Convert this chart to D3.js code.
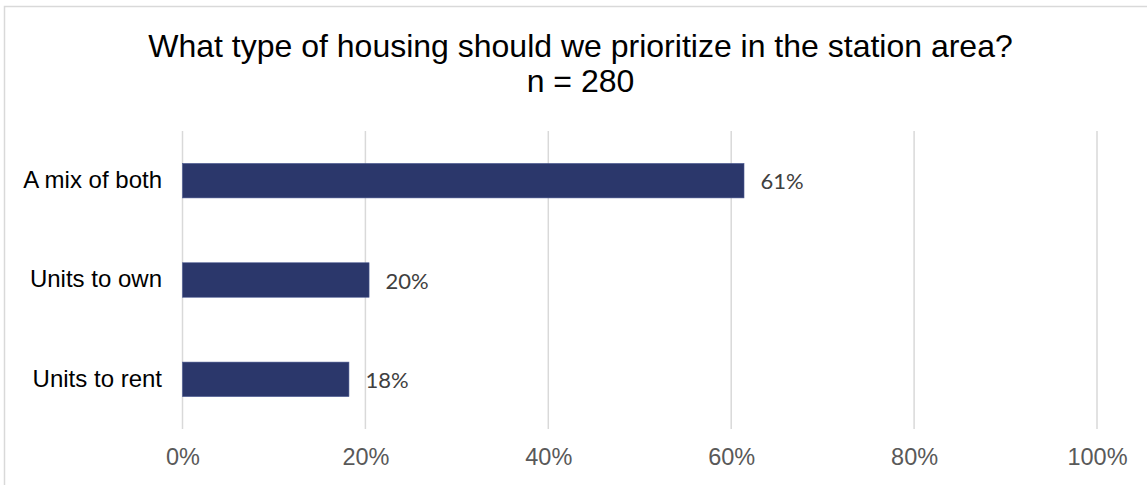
<!DOCTYPE html>
<html>
<head>
<meta charset="utf-8">
<script src="https://cdn.jsdelivr.net/npm/d3@7"></script>
<style>
  html, body { margin: 0; padding: 0; background: #fff; }
  svg { display: block; }
</style>
</head>
<body>
<svg id="chart" width="1147" height="485"></svg>
<script>
// Survey responses: housing type to prioritize near the station
const categories = ["A mix of both", "Units to own", "Units to rent"];
const shares = [0.614, 0.204, 0.182];
const tickValues = [0, 0.2, 0.4, 0.6, 0.8, 1.0];
const titleLines = ["What type of housing should we prioritize in the station area?", "n = 280"];

const svg = d3.select("#chart");
const W = 1147, H = 485;

// outer chart frame (runs past the right and bottom edges)
svg.append("rect")
  .attr("x", 4.5).attr("y", 6.5)
  .attr("width", W + 20).attr("height", H + 20)
  .attr("fill", "#fff")
  .attr("stroke", "#d9d9d9")
  .attr("stroke-width", 1.5);

const plot = { left: 182.5, right: 1097, top: 131, bottom: 429 };

const x = d3.scaleLinear().domain([0, 1]).range([plot.left, plot.right]);
const y = d3.scaleBand()
  .domain(categories)
  .range([plot.top, plot.bottom])
  .paddingInner(0.653)
  .paddingOuter(0.3265);

// title
svg.append("g").selectAll("text")
  .data(titleLines)
  .join("text")
  .attr("x", 580.5)
  .attr("y", (d, i) => 57.3 + i * 34.5)
  .attr("text-anchor", "middle")
  .attr("font-family", "'Liberation Sans', Arial, sans-serif")
  .attr("font-size", 32)
  .attr("fill", "#000")
  .text(d => d);

// vertical gridlines
svg.append("g").selectAll("line")
  .data(tickValues)
  .join("line")
  .attr("x1", d => x(d)).attr("x2", d => x(d))
  .attr("y1", plot.top).attr("y2", plot.bottom)
  .attr("stroke", "#d9d9d9")
  .attr("stroke-width", 1.5);

// x axis labels
const xAxis = d3.axisBottom(x)
  .tickValues(tickValues)
  .tickFormat(d3.format(".0%"))
  .tickSize(0)
  .tickPadding(0);
const gx = svg.append("g")
  .attr("transform", `translate(0,${plot.bottom})`)
  .call(xAxis);
gx.select(".domain").remove();
gx.selectAll("text")
  .attr("dy", null)
  .attr("y", 465 - plot.bottom)
  .attr("font-family", "'Liberation Sans', Arial, sans-serif")
  .attr("font-size", 23.5)
  .attr("fill", "#595959");

// y axis category labels
const yAxis = d3.axisLeft(y).tickSize(0).tickPadding(0);
const gy = svg.append("g")
  .attr("transform", `translate(${plot.left - 20.5},0)`)
  .call(yAxis);
gy.select(".domain").remove();
gy.selectAll("text")
  .attr("dy", null)
  .attr("y", 7.2)
  .attr("font-family", "'Liberation Sans', Arial, sans-serif")
  .attr("font-size", 24)
  .attr("fill", "#000");

// bars
const rows = categories.map((c, i) => ({ category: c, value: shares[i] }));
svg.append("g").selectAll("rect")
  .data(rows)
  .join("rect")
  .attr("x", x(0))
  .attr("y", d => y(d.category))
  .attr("width", d => x(d.value) - x(0))
  .attr("height", y.bandwidth())
  .attr("fill", "#2b376b")
  .attr("stroke", "#4a5890")
  .attr("stroke-width", 0.6);

// value labels
svg.append("g").selectAll("text")
  .data(rows)
  .join("text")
  .attr("x", d => x(d.value) + 16.5)
  .attr("y", d => y(d.category) + y.bandwidth() / 2 + 8.8)
  .attr("font-family", "Lato, 'Open Sans', sans-serif")
  .attr("font-size", 22)
  .attr("fill", "#404040")
  .text(d => d3.format(".0%")(d.value));
</script>
</body>
</html>
